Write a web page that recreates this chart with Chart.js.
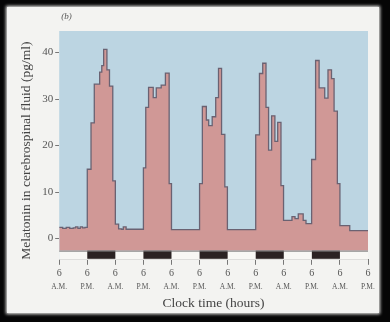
<!DOCTYPE html>
<html><head><meta charset="utf-8">
<script src="https://cdn.jsdelivr.net/npm/chart.js@4"></script>
<style>
html,body{margin:0;padding:0;background:#060606;width:390px;height:322px;overflow:hidden}
#page{position:absolute;left:7px;top:7px;width:372px;height:306px;background:#f3f3f1;box-shadow:0 0 3px 1px #f3f3f1}
canvas{position:absolute;left:0;top:0}
</style></head><body>
<div id="page"></div>
<canvas id="c" width="390" height="322"></canvas>
<script>
// Step start times (hours after 6 A.M. of day 1) and melatonin level held from that time (pg/ml)
const stepHours = [0,1.5,3,4.5,6,7,8,9,10,11,
  12,13.6,15.0,17.3,18.2,19.0,20.4,21.5,22.9,24.0,25.4,26.6,27.4,28.6,
  36.0,37.0,38.2,40.2,41.5,43.6,45.4,47.0,48.0,
  60.0,61.2,62.9,63.9,65.4,66.9,68.1,69.4,70.8,71.9,
  84.0,85.6,87.0,88.4,89.5,90.8,92.2,93.4,94.8,95.9,99.5,100.8,102.2,104.3,105.5,
  107.9,109.6,111.1,113.5,114.9,116.4,117.5,118.9,120.0,124.2,132];
const melatonin = [2.4,2.2,2.4,2.2,2.3,2.5,2.2,2.5,2.3,2.4,
  14.9,24.9,33.2,35.8,37.2,40.7,36.3,32.8,12.4,3.1,2.1,2.0,2.5,2.0,
  15.2,28.2,32.5,30.3,32.4,33.0,35.6,11.8,1.9,
  11.8,28.4,25.5,24.3,26.2,30.3,36.6,22.4,11.1,1.9,
  22.3,35.5,37.7,28.2,19.0,26.4,20.9,25.0,11.4,3.9,4.7,4.3,5.3,3.9,3.2,
  17.0,38.3,32.4,30.2,36.3,34.4,27.4,11.8,2.8,1.7,1.7];
const darkStartHours = [12,36,60,84,108];
const darkLengthHours = 12;
const xTickHours = [0,12,24,36,48,60,72,84,96,108,120,132];
const xTickTop = ['6','6','6','6','6','6','6','6','6','6','6','6'];
const xTickBottom = ['A.M.','P.M.','A.M.','P.M.','A.M.','P.M.','A.M.','P.M.','A.M.','P.M.','A.M.','P.M.'];
const yTickValues = [0,10,20,30,40];
const barTop = -2.6, yMin = -4.57, yMax = 44.64, xMin = 0, xMax = 132;

const BLUE = '#bcd5e2', PINK = '#d09896', LINE = '#6a6272', SERIF = '"Liberation Serif","DejaVu Serif",serif';

const paper = {
  id: 'paper',
  beforeDraw(chart) {
    const {ctx, chartArea: a} = chart;
    ctx.save();
    ctx.fillStyle = BLUE;
    ctx.fillRect(a.left, a.top, a.right - a.left, a.bottom - a.top);
    ctx.restore();
  },
  afterDatasetsDraw(chart) {
    const {ctx, chartArea: a} = chart;
    const xs = chart.scales.x, ys = chart.scales.y;
    const t = ys.getPixelForValue(barTop), b = a.bottom;
    const l = xs.getPixelForValue(xMin), r = xs.getPixelForValue(xMax);
    ctx.save();
    ctx.fillStyle = '#f8f7f4';
    ctx.fillRect(l, t, r - l, b - t);
    ctx.fillStyle = '#2b2222';
    darkStartHours.forEach(h => {
      const x0 = xs.getPixelForValue(h), x1 = xs.getPixelForValue(h + darkLengthHours);
      ctx.fillRect(x0, t, x1 - x0, b - t - 1);
    });
    ctx.strokeStyle = '#777';
    ctx.lineWidth = 1;
    ctx.beginPath();
    ctx.moveTo(l, t + 0.5); ctx.lineTo(r, t + 0.5);
    ctx.stroke();
    ctx.restore();
  },
  afterDraw(chart) {
    const {ctx, chartArea: a} = chart;
    ctx.save();
    ctx.fillStyle = '#555';
    ctx.font = 'italic 9px ' + SERIF;
    ctx.textBaseline = 'middle';
    ctx.fillText('(b)', a.left + 2, 17);
    ctx.restore();
  }
};

new Chart(document.getElementById('c'), {
  type: 'line',
  data: {
    datasets: [{
      data: stepHours.map((h, i) => ({x: h, y: melatonin[i]})),
      stepped: true,
      fill: {value: barTop},
      backgroundColor: PINK,
      borderColor: LINE,
      borderWidth: 1.3,
      pointRadius: 0
    }]
  },
  options: {
    responsive: false,
    animation: false,
    devicePixelRatio: 1,
    layout: {padding: {left: 18, top: 31, right: 22, bottom: 10}},
    plugins: {legend: {display: false}, tooltip: {enabled: false}},
    scales: {
      x: {
        type: 'linear', min: xMin, max: xMax, weight: 0,
        afterBuildTicks: ax => { ax.ticks = xTickHours.map(v => ({value: v})); },
        ticks: {autoSkip: false, maxRotation: 0, padding: 3, color: '#555',
          font: {family: SERIF, size: 10},
          callback: v => xTickTop[xTickHours.indexOf(v)]},
        grid: {display: true, drawOnChartArea: false, tickLength: 5, color: '#777'},
        border: {display: true, color: '#777', width: 1}
      },
      x2: {
        type: 'linear', position: 'bottom', min: xMin, max: xMax, weight: 1,
        afterBuildTicks: ax => { ax.ticks = xTickHours.map(v => ({value: v})); },
        ticks: {autoSkip: false, maxRotation: 0, padding: 0, color: '#555',
          font: {family: SERIF, size: 7.5},
          callback: v => xTickBottom[xTickHours.indexOf(v)]},
        grid: {display: false, drawTicks: false},
        border: {display: false},
        title: {display: true, text: 'Clock time (hours)', color: '#444',
          font: {family: SERIF, size: 13.5}, padding: {top: 4, bottom: 0}}
      },
      y: {
        type: 'linear', min: yMin, max: yMax,
        afterBuildTicks: ax => { ax.ticks = yTickValues.map(v => ({value: v})); },
        ticks: {color: '#555', padding: 2, font: {family: SERIF, size: 11}},
        grid: {display: true, drawOnChartArea: false, tickLength: 4, color: '#777'},
        border: {display: false},
        title: {display: true, align: 'start', text: 'Melatonin in cerebrospinal fluid (pg/ml)', color: '#444',
          font: {family: SERIF, size: 13.5}, padding: {top: 0, bottom: 6}}
      }
    }
  },
  plugins: [paper]
});
</script>
</body></html>
